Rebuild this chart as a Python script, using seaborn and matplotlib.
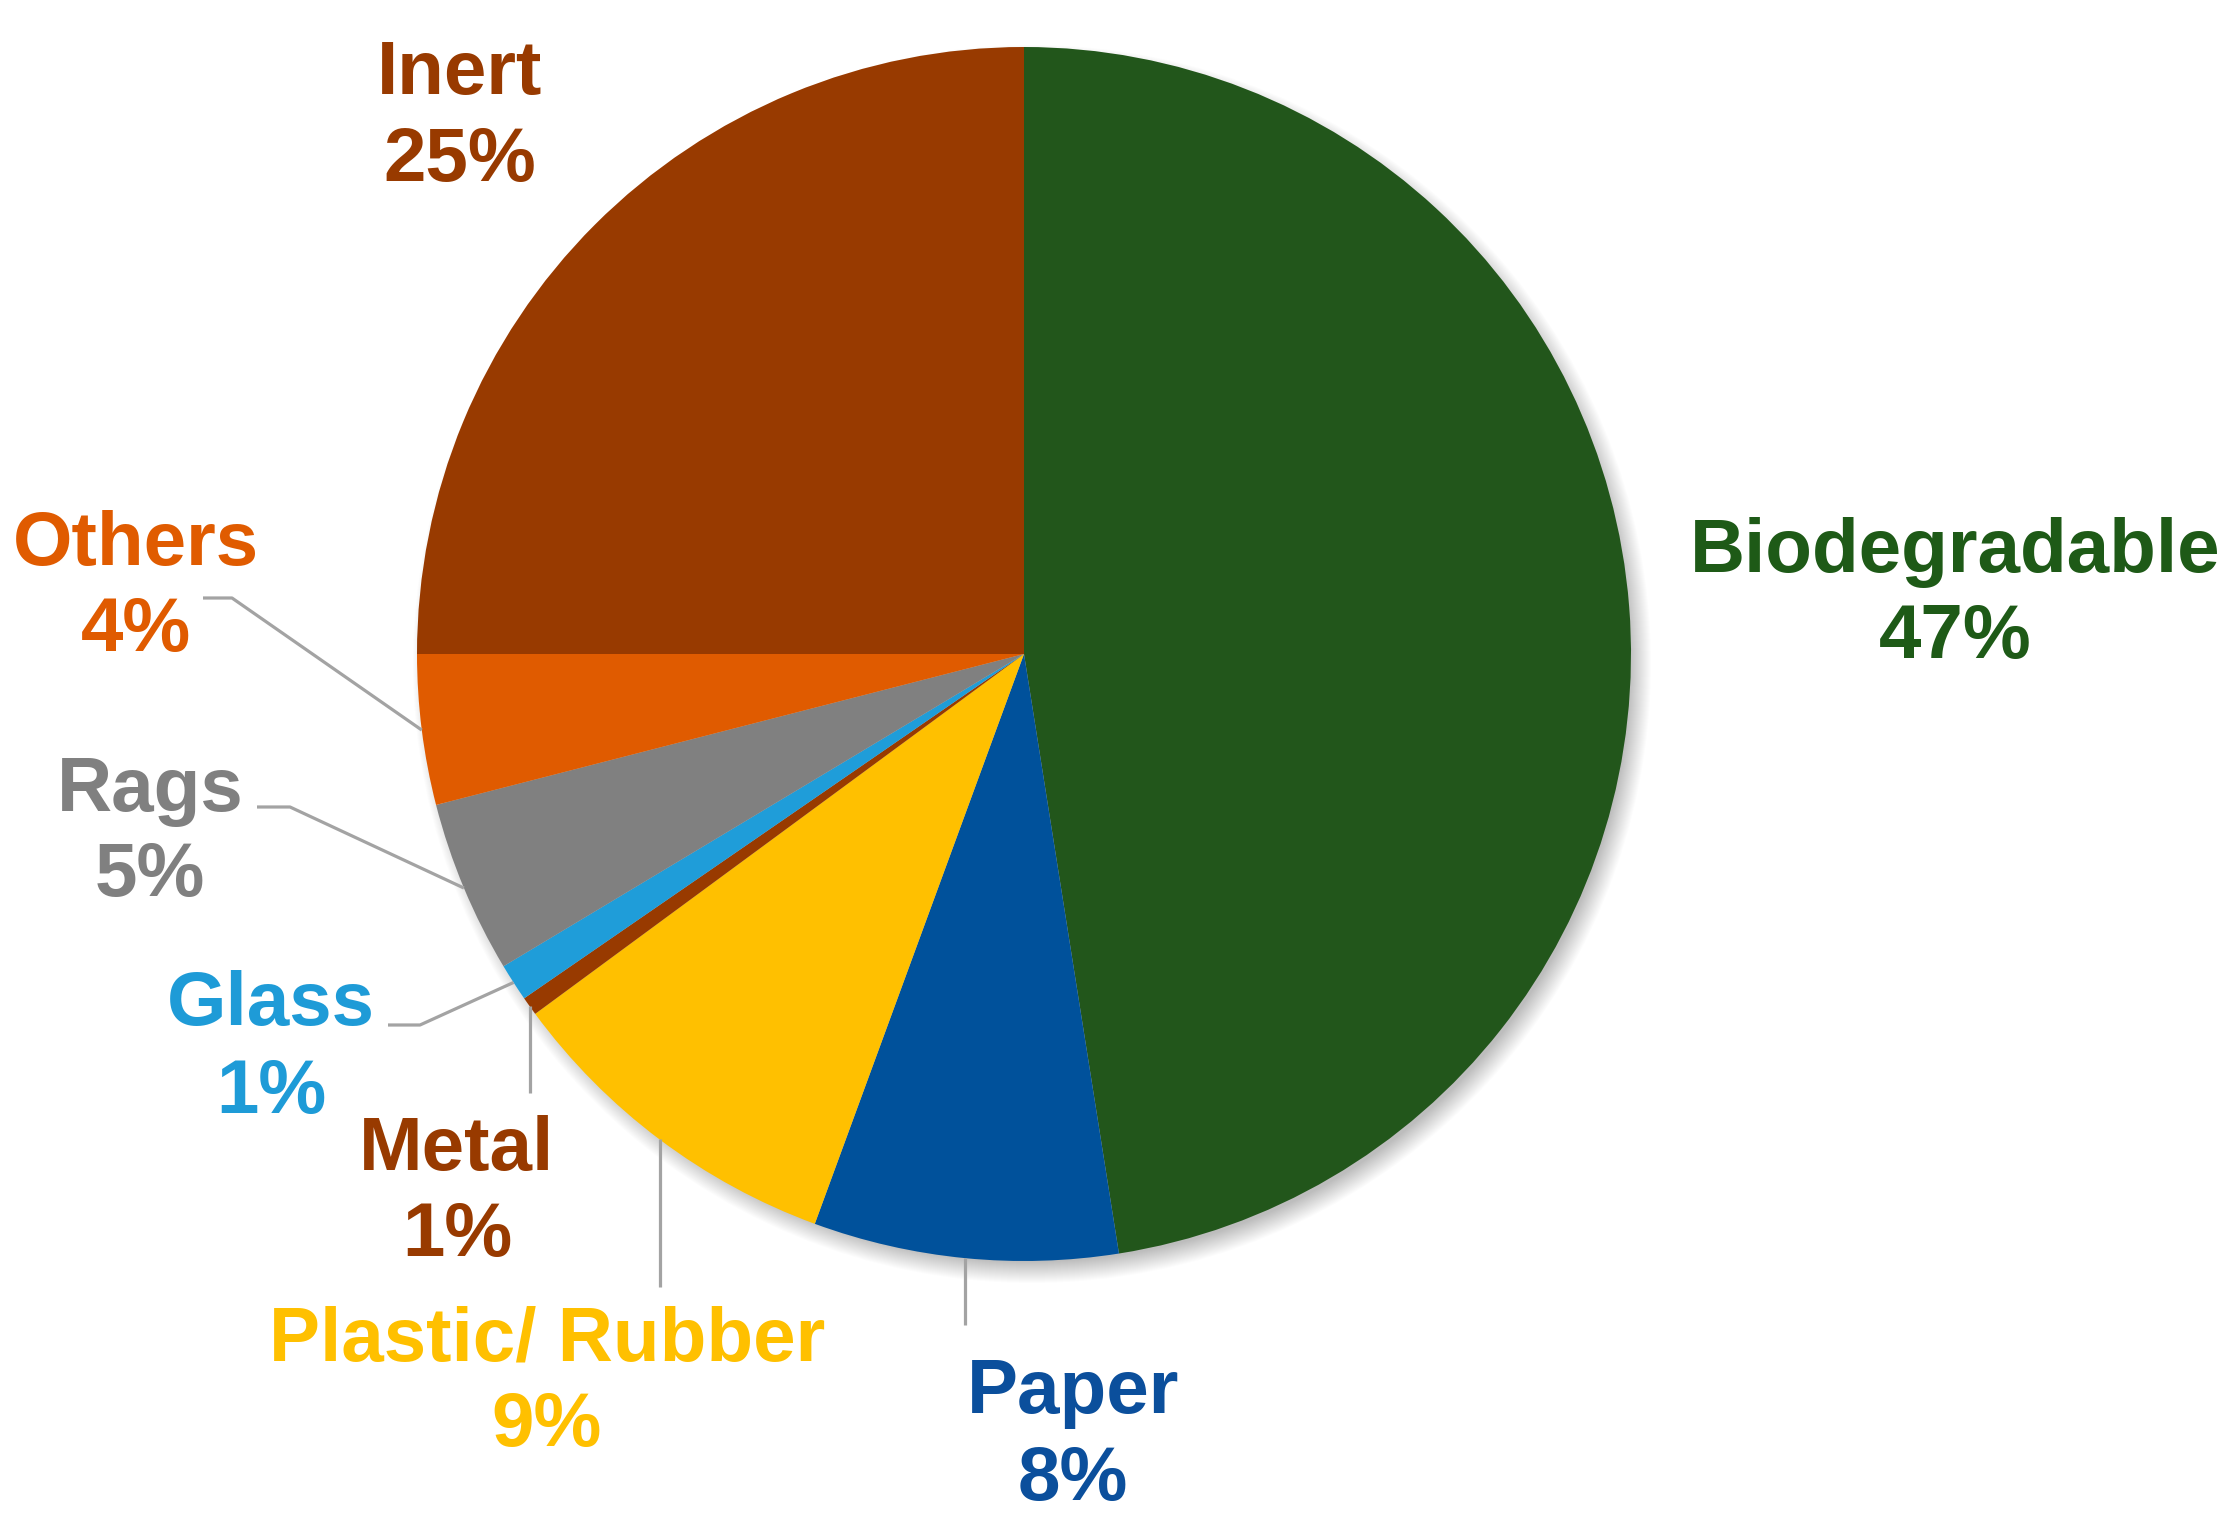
import numpy as np
import matplotlib
matplotlib.use("Agg")
import matplotlib.pyplot as plt
from matplotlib.patches import Circle
import seaborn as sns

# waste composition, clockwise from 12 o'clock
categories = ["Biodegradable", "Paper", "Plastic/ Rubber", "Metal", "Glass", "Rags", "Others", "Inert"]
shares = [47.5, 8.1, 9.3, 0.5, 1.0, 4.6, 4.0, 25.0]
pct_labels = ["47%", "8%", "9%", "1%", "1%", "5%", "4%", "25%"]
slice_colors = ["#22561b", "#00519b", "#ffc000", "#983a00", "#1f9dd9", "#808080", "#e05b00", "#983a00"]
text_colors = ["#1e5a17", "#0b4f9c", "#ffc000", "#983a00", "#1e9bd7", "#808080", "#e05b00", "#983a00"]

sns.set_theme(style="white")
plt.rcParams["font.family"] = ["Liberation Sans", "DejaVu Sans"]

W, H = 2238, 1522
fig = plt.figure(figsize=(W / 100, H / 100), dpi=100)
ax = fig.add_axes([0, 0, 1, 1])

cx, cy, r = 1024, H - 654, 607

# soft drop shadow, down and to the right
for i in range(22):
    ax.add_patch(Circle((cx + 8, cy - 10), r + 12 - i, color="#000000", alpha=0.012, lw=0, zorder=0))

wedges, _ = ax.pie(shares, colors=slice_colors, startangle=90, counterclock=False,
                   center=(cx, cy), radius=r, wedgeprops=dict(linewidth=0))
ax.set_xlim(0, W)
ax.set_ylim(0, H)
ax.set_aspect("equal")
ax.axis("off")


def edge_point(w):
    a = np.deg2rad((w.theta1 + w.theta2) / 2)
    return cx + r * np.cos(a), cy + r * np.sin(a)


# label placement: (x centre, name baseline, pct baseline) in image pixels
label_pos = {
    "Biodegradable": (1955, 572, 658),
    "Paper": (1073, 1413, 1500),
    "Plastic/ Rubber": (547, 1360, 1446),
    "Metal": (457, 1170, 1256),
    "Glass": (271, 1025, 1113),
    "Rags": (150, 811, 896),
    "Others": (136, 565, 651),
    "Inert": (460, 94, 181),
}
fs = 55
for name, pct, col in zip(categories, pct_labels, text_colors):
    x, y1, y2 = label_pos[name]
    ax.text(x, H - y1, name, color=col, fontsize=fs, fontweight="bold", ha="center", va="baseline")
    ax.text(x, H - y2, pct, color=col, fontsize=fs, fontweight="bold", ha="center", va="baseline")

# leader lines
line_kw = dict(color="#a3a3a3", lw=2.3, solid_capstyle="butt", zorder=3)
elbow = {"Others": (203, 232, 598), "Rags": (257, 290, 807), "Glass": (388, 420, 1025)}
drop = {"Metal": 1093, "Plastic/ Rubber": 1287, "Paper": 1325}
for name, w in zip(categories, wedges):
    ex, ey = edge_point(w)
    if name in elbow:
        x0, xk, yk = elbow[name]
        ax.plot([x0, xk, ex], [H - yk, H - yk, ey], **line_kw)
    elif name in drop:
        ax.plot([ex, ex], [ey, H - drop[name]], **line_kw)

fig.savefig("out.png", dpi=100)
